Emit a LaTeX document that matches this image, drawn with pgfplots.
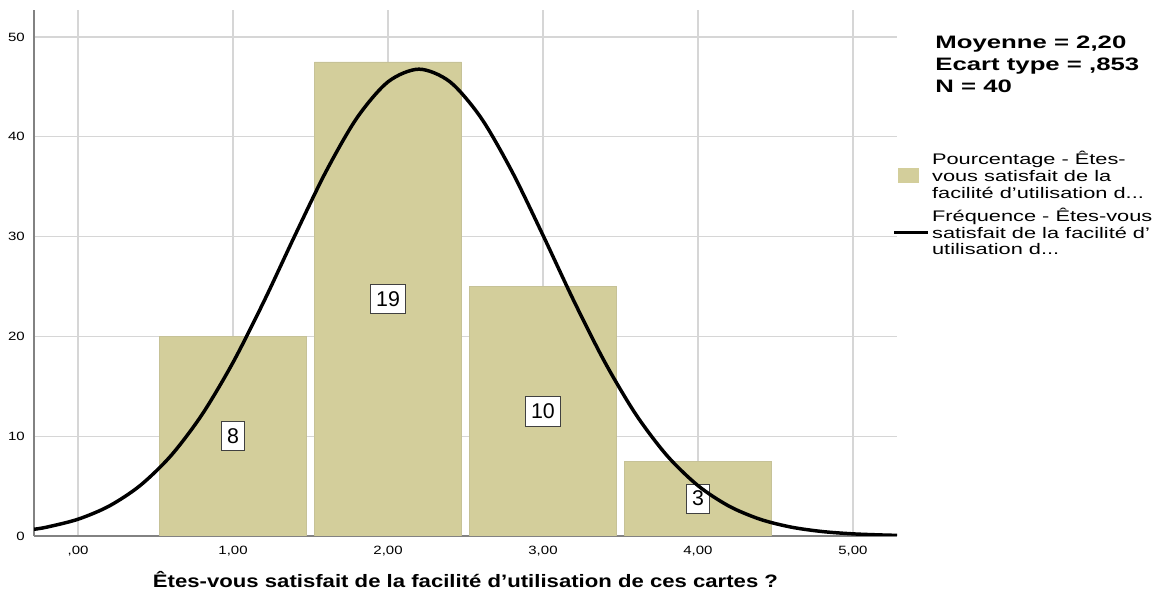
\documentclass[border=0pt]{standalone}
\usepackage{fontspec}
\setmainfont{Liberation Sans}
\usepackage{pgfplots}
\pgfplotsset{compat=1.18}
\definecolor{barc}{RGB}{211,206,155}
\definecolor{gridc}{RGB}{214,214,214}
\definecolor{axc}{RGB}{130,130,130}
\newcommand{\sx}[1]{\scalebox{1.42}[1]{#1}}
\begin{document}
\begin{tikzpicture}
\path[use as bounding box] (-25.5pt,-42pt) rectangle (842.25pt,402pt);
\begin{axis}[
  at={(0pt,0pt)}, anchor=south west,
  scale only axis, width=647.25pt, height=394.5pt,
  xmin=-0.284, xmax=5.284, ymin=0, ymax=52.7,
  axis x line*=bottom, axis y line*=left,
  axis line style={axc, line width=0.8pt},
  xtick={0,1,2,3,4,5},
  xticklabels={{,00},{1,00},{2,00},{3,00},{4,00},{5,00}},
  ytick={0,10,20,30,40,50},
  yticklabels={0,10,20,30,40,50},
  grid=major, major grid style={gridc, line width=0.9pt},
  major tick length=0pt,
  tick label style={font=\fontsize{9}{10}\selectfont, xscale=1.25},
  xticklabel style={yshift=-4pt},
  yticklabel style={xshift=-2pt},
  xlabel={Êtes-vous satisfait de la facilité d’utilisation de ces cartes ?},
  xlabel style={at={(axis description cs:0.5,0)}, anchor=center, yshift=-33pt,
    font=\bfseries\fontsize{13.5}{15}\selectfont, xscale=1.23},
  clip mode=individual,
  legend cell align=left,
  legend style={at={(rel axis cs:0.990,0.742)}, anchor=north west, draw=none, fill=none,
    font=\fontsize{11.5}{12.5}\selectfont, row sep=2pt, column sep=0pt,
    cells={align=left}},
]
\addplot[ybar, bar width=0.95, fill=barc, draw=barc!85!gray, line width=0.5pt,
  legend image code/.code={\fill[barc] (0pt,-5pt) rectangle (15pt,5.5pt);}]
  coordinates {(1,20) (2,47.5) (3,25) (4,7.5)};
\addlegendentry{\sx{Pourcentage - Êtes-}\\\sx{vous satisfait de la}\\\sx{facilité d'utilisation d...}}
\addplot[draw=none, mark=none, forget plot, point meta=explicit symbolic,
  nodes near coords,
  nodes near coords style={anchor=center, draw=black!75, fill=white, line width=0.6pt,
    font=\fontsize{16}{16}\selectfont, inner xsep=4pt, inner ysep=0pt, minimum height=22pt}]
  coordinates {(1,10) [8] (2,23.75) [19] (3,12.5) [10] (4,3.75) [3]};
\addplot[black, line width=2.6pt, smooth, mark=none,
  legend image code/.code={\draw[line width=2.6pt] (-3pt,0pt) -- (22pt,0pt);}]
  coordinates {
  (-0.284,0.674) (-0.2,0.893) (0,1.680) (0.2,2.993) (0.4,5.046) (0.6,8.055)
  (0.8,12.163) (1.0,17.387) (1.2,23.524) (1.4,30.130) (1.6,36.518) (1.8,41.900)
  (2.0,45.502) (2.2,46.770) (2.4,45.502) (2.6,41.900) (2.8,36.518) (3.0,30.130)
  (3.2,23.524) (3.4,17.387) (3.6,12.163) (3.8,8.055) (4.0,5.046) (4.2,2.993)
  (4.4,1.680) (4.6,0.893) (4.8,0.449) (5.0,0.214) (5.2,0.096) (5.284,0.068)};
\addlegendentry{\sx{Fréquence - Êtes-vous}\\\sx{satisfait de la facilité d'}\\\sx{utilisation d...}}
\node[anchor=north west, align=left, font=\bfseries\fontsize{13.5}{16.5}\selectfont, xscale=1.43, inner sep=0pt]
  at (rel axis cs:1.044,0.951) {Moyenne = 2,20\\Ecart type = ,853\\N = 40};
\end{axis}
\end{tikzpicture}
\end{document}
